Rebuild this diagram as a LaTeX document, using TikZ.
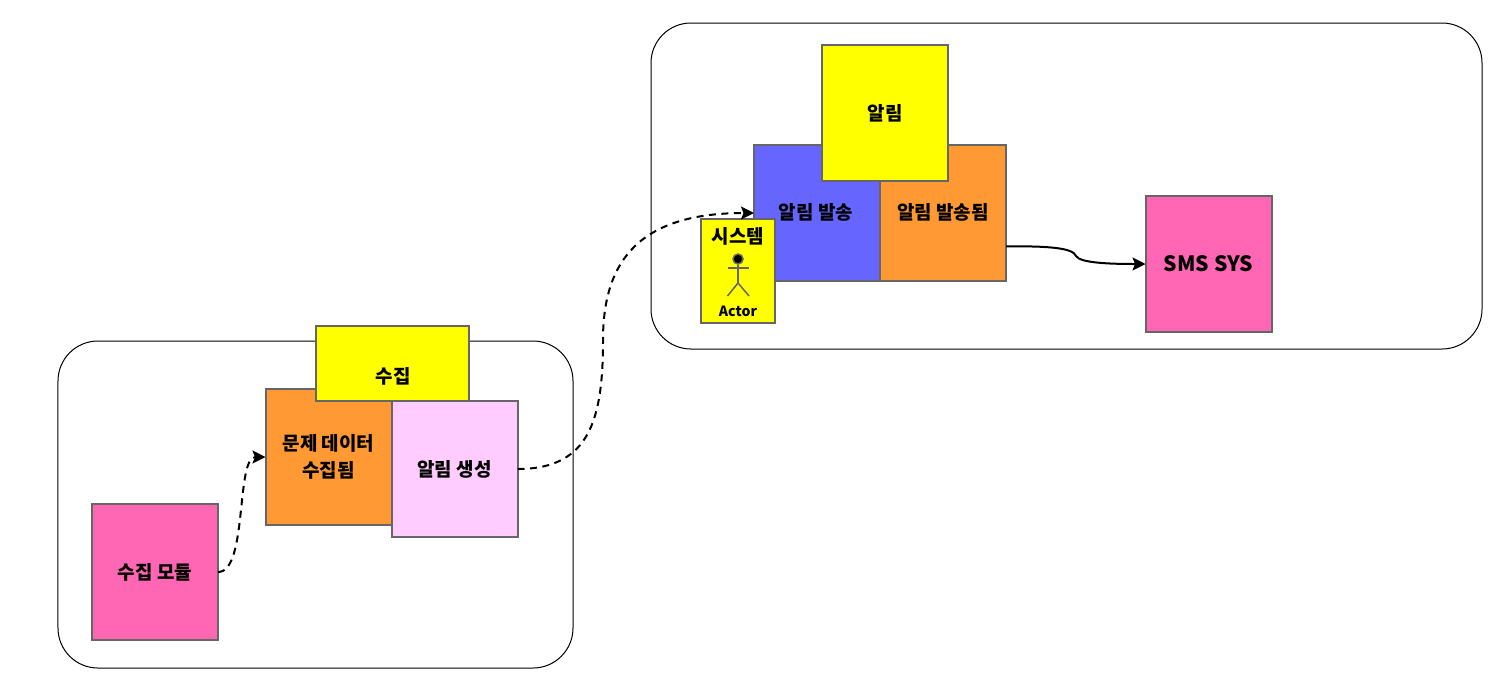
\documentclass[tikz,border=0pt]{standalone}
\usepackage{fontspec}
\setmainfont{Noto Sans CJK KR}
\usepackage{xcolor}
\usepackage{tikz}
\usetikzlibrary{arrows.meta,positioning,calc}
\definecolor{cardpink}{HTML}{FF66B3}
\definecolor{cardorange}{HTML}{FF9933}
\definecolor{cardlilac}{HTML}{FFCCFF}
\definecolor{cardblue}{HTML}{6666FF}
\definecolor{cardyellow}{HTML}{FFFF00}
\definecolor{cardline}{HTML}{666666}
\tikzset{
  groupbox/.style={draw=black, rounded corners=8mm, line width=0.2mm, inner sep=0pt, outer sep=0pt},
  cardtext/.style={font=\fontsize{10.8}{15.5}\selectfont\bfseries, align=center},
  card/.style={draw=cardline, line width=0.4mm, cardtext, inner sep=0pt, outer sep=0pt, minimum width=25.2mm, minimum height=27.2mm},
  flowmsg/.style={-{Stealth[length=2.6mm,width=2.6mm,inset=0.5mm]}, line width=0.4mm, black},
  flowdash/.style={flowmsg, dash pattern=on 1.4mm off 1.1mm},
  stickline/.style={draw=cardline, line width=0.3mm}
}
\begin{document}
\begin{tikzpicture}[x=0.2mm,y=-0.2mm]
\useasboundingbox (0,0) rectangle (1490,686);
\node[groupbox, minimum width=103mm, minimum height=65.4mm] (collectgroup) at (315.5,504.5) {};
\node[groupbox, minimum width=166.2mm, minimum height=65.2mm] (alertgroup) at (1066.5,186) {};
\node[card, fill=cardpink] (module) at (155,572) {수집 모듈};
\node[card, fill=cardorange] (collected) at (328.5,457) {문제 데이터\\수집됨};
\node[card, fill=cardlilac] (create) at (454.5,469) {알림 생성};
\node[card, fill=cardyellow, minimum width=30.6mm, minimum height=15mm] (collect) at (392.5,363.5) {};
\node[cardtext] (collectlabel) at (393,376) {수집};
\node[card, fill=cardblue] (send) at (817,213) {};
\node[card, fill=cardorange] (sent) at (943,213) {};
\node[cardtext] (sendlabel) at (816,212) {알림 발송};
\node[cardtext] (sentlabel) at (943,212) {알림 발송됨};
\node[card, fill=cardyellow] (alert) at (885,113) {알림};
\node[card, fill=cardpink, font=\fontsize{12}{15}\selectfont\bfseries] (sms) at (1208.5,264) {SMS SYS};
\node[card, fill=cardyellow, minimum width=14.8mm, minimum height=20.8mm] (system) at (738,271) {};
\node[cardtext, font=\fontsize{10.8}{12}\selectfont\bfseries] (systemlabel) at (738,236) {시스템};
\node[cardtext, font=\fontsize{8}{9}\selectfont\bfseries] (actorlabel) at (738,311) {Actor};
\node[circle, draw=cardline, fill=black, line width=0.3mm, minimum size=2mm, inner sep=0pt] (head) at (738,259) {};
\coordinate (armleft) at (727.5,268);
\coordinate (armright) at (749,268);
\coordinate (hip) at (738,283);
\coordinate (footleft) at (727.5,296);
\coordinate (footright) at (749,296);
\draw[stickline] (head.south) -- (hip);
\draw[stickline] (armleft) -- (armright);
\draw[stickline] (footleft) -- (hip) -- (footright);
\coordinate (midway) at (603,340);
\coordinate (sentout) at ($(sent.north east)!0.745!(sent.south east)$);
\coordinate (kink) at (1076,256);
\draw[flowdash] (module.east) .. controls +(30,0) and +(-30,0) .. (collected.west);
\draw[flowdash] (create.east) .. controls +(72,0) and (603,420) .. (midway) .. controls (603,260) and (640,213) .. (send.west);
\draw[flowmsg] (sentout) .. controls (1050,246) and (1073,248) .. (kink) .. controls (1080,263) and (1110,264) .. (sms.west);
\end{tikzpicture}
\end{document}
